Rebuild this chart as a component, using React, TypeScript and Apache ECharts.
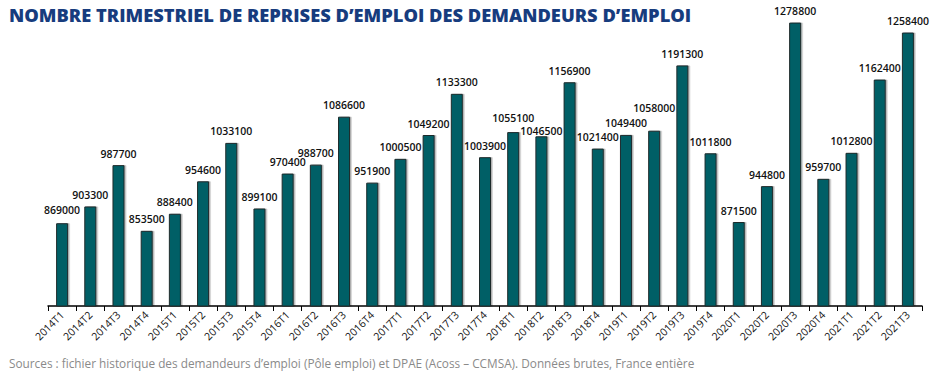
import React, { useEffect, useRef } from "react";
import * as echarts from "echarts";

const categories = [
  "2014T1", "2014T2", "2014T3", "2014T4",
  "2015T1", "2015T2", "2015T3", "2015T4",
  "2016T1", "2016T2", "2016T3", "2016T4",
  "2017T1", "2017T2", "2017T3", "2017T4",
  "2018T1", "2018T2", "2018T3", "2018T4",
  "2019T1", "2019T2", "2019T3", "2019T4",
  "2020T1", "2020T2", "2020T3", "2020T4",
  "2021T1", "2021T2", "2021T3",
];

const reprises = [
  869000, 903300, 987700, 853500,
  888400, 954600, 1033100, 899100,
  970400, 988700, 1086600, 951900,
  1000500, 1049200, 1133300, 1003900,
  1055100, 1046500, 1156900, 1021400,
  1049400, 1058000, 1191300, 1011800,
  871500, 944800, 1278800, 959700,
  1012800, 1162400, 1258400,
];

// vertical nudges of a few value labels (index -> px), as in the reference
const labelNudges: Record<number, number> = { 0: -2, 16: -3, 17: 6, 21: -11 };

const title = "NOMBRE TRIMESTRIEL DE REPRISES D\u2019EMPLOI DES DEMANDEURS D\u2019EMPLOI";
const source =
  "Sources : fichier historique des demandeurs d\u2019emploi (P\u00f4le emploi) et DPAE (Acoss \u2013 CCMSA). Donn\u00e9es brutes, France enti\u00e8re";

export default function App() {
  const ref = useRef<HTMLDivElement>(null);
  useEffect(() => {
    if (!ref.current) return;
    const chart = echarts.init(ref.current, null, { renderer: "svg" });
    const data = reprises.map((v, i) =>
      labelNudges[i] !== undefined
        ? { value: v, label: { offset: [0, labelNudges[i]] } }
        : v
    );
    chart.setOption({
      animation: false,
      backgroundColor: "#ffffff",
      textStyle: { fontFamily: "Open Sans" },
      title: [
        {
          text: title,
          left: 4,
          top: 0,
          textStyle: {
            fontFamily: "Open Sans",
            fontWeight: 800,
            fontSize: 18.3,
            color: "#173c7e",
          },
        },
        {
          text: source,
          left: 4,
          top: 352,
          textStyle: {
            fontFamily: "Open Sans",
            fontWeight: "normal",
            fontSize: 11.8,
            color: "#8a8a8a",
          },
        },
      ],
      grid: { left: 48, right: 9, top: 22, bottom: 66, containLabel: false },
      xAxis: {
        type: "category",
        data: categories,
        axisLine: { show: true, lineStyle: { color: "#000", width: 1.5 } },
        axisTick: { show: true, length: 5, lineStyle: { color: "#000", width: 1 } },
        axisLabel: {
          rotate: 45,
          fontSize: 10.5,
          color: "#111",
          margin: 7,
          interval: 0,
          fontFamily: "Open Sans",
        },
      },
      yAxis: {
        type: "value",
        min: 700000,
        max: 1280000,
        show: false,
        splitLine: { show: false },
      },
      series: [
        {
          type: "bar",
          data,
          barWidth: 12,
          itemStyle: {
            color: "#005f66",
            borderColor: "#1e2b2c",
            borderWidth: 1,
            shadowColor: "rgba(0,0,0,0.3)",
            shadowOffsetX: 1.5,
            shadowBlur: 1,
          },
          label: {
            show: true,
            position: "top",
            distance: 6,
            fontSize: 10.5,
            fontWeight: 600,
            color: "#111",
            fontFamily: "Open Sans",
          },
        },
      ],
    });
    return () => chart.dispose();
  }, []);
  return (
    <div
      ref={ref}
      style={{ width: 931, height: 372, position: "absolute", left: 0, top: 0 }}
    />
  );
}
